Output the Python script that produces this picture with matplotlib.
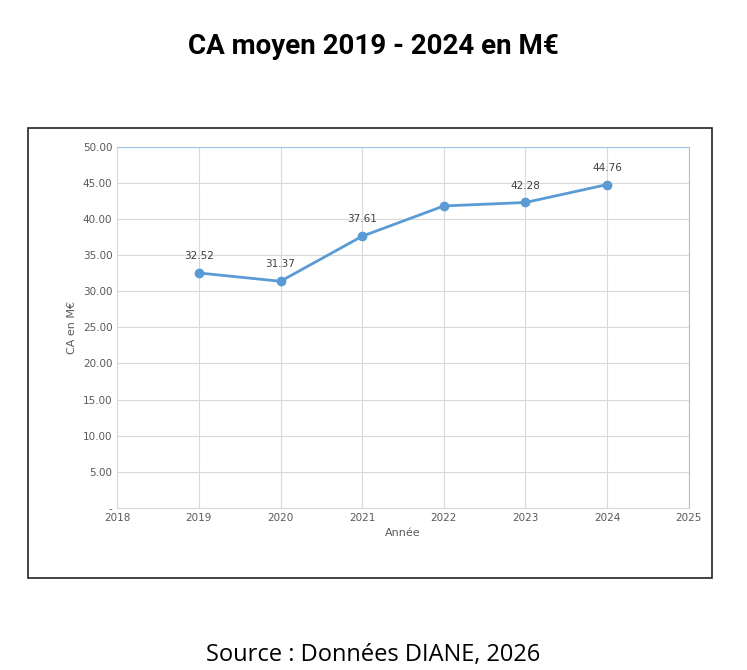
import matplotlib
matplotlib.use("Agg")
import matplotlib.pyplot as plt
from matplotlib.patches import Rectangle

years = [2019, 2020, 2021, 2022, 2023, 2024]
values = [32.52, 31.37, 37.61, 41.8, 42.28, 44.76]
labels = ["32.52", "31.37", "37.61", "", "42.28", "44.76"]
yticks = [0, 5, 10, 15, 20, 25, 30, 35, 40, 45, 50]
xticks = [2018, 2019, 2020, 2021, 2022, 2023, 2024, 2025]

fig = plt.figure(figsize=(7.47, 6.70), dpi=100)
fig.patches.append(Rectangle((0.037, 0.137), 0.916, 0.672, transform=fig.transFigure,
                             fill=False, edgecolor="#222222", linewidth=1.2))
ax = fig.add_axes([0.157, 0.242, 0.765, 0.539])
ax.plot(years, values, color="#5B9BD5", linewidth=2, marker="o", markersize=6)
for x, v, l in zip(years, values, labels):
    if l:
        ax.annotate(l, (x, v), xytext=(0, 10), textcoords="offset points",
                    ha="center", fontsize=7.5, color="#404040")
ax.set_xlim(2018, 2025)
ax.set_ylim(0, 50)
ax.set_xticks(xticks)
ax.set_yticks(yticks)
ax.set_yticklabels(["-" if t == 0 else f"{t:.2f}" for t in yticks])
ax.grid(True, color="#d9d9d9", linewidth=0.8)
ax.set_axisbelow(True)
ax.tick_params(labelsize=7.5, colors="#595959", length=0)
for s in ["top", "right"]:
    ax.spines[s].set_color("#9DC3E6")
for s in ["left", "bottom"]:
    ax.spines[s].set_color("#d9d9d9")
ax.set_xlabel("Année", fontsize=8, color="#595959")
ax.set_ylabel("CA en M€", fontsize=8, color="#595959")

fig.text(0.5, 0.93, "CA moyen 2019 - 2024 en M€", ha="center", va="center",
         fontsize=20, fontweight="bold", family="Roboto")
fig.text(0.5, 0.022, "Source : Données DIANE, 2026", ha="center", va="center",
         fontsize=17, family="Open Sans")
fig.savefig("out.png", dpi=100)
